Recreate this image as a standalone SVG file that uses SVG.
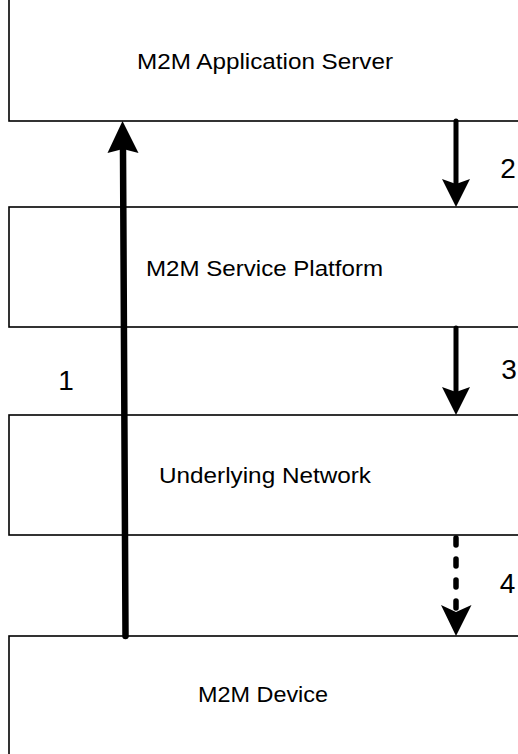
<svg xmlns="http://www.w3.org/2000/svg" width="518" height="754" viewBox="0 0 518 754">
  <style>
    .box { fill: #ffffff; stroke: #000000; stroke-width: 1.6; }
    .lbl { font-family: "Liberation Sans", Arial, sans-serif; font-size: 21.5px; fill: #000000; }
    .num { font-family: "Liberation Sans", Arial, sans-serif; font-size: 28px; fill: #000000; text-anchor: middle; }
    .shaft { stroke: #000000; fill: none; stroke-linecap: round; }
    .head { fill: #000000; stroke: none; }
  </style>
  <rect width="518" height="754" fill="#ffffff"/>
  <g id="app-server">
    <rect class="box" x="9" y="-5" width="520" height="126"/>
    <text class="lbl" x="137" y="69" textLength="256" lengthAdjust="spacingAndGlyphs">M2M Application Server</text>
  </g>
  <g id="service-platform">
    <rect class="box" x="9" y="207" width="520" height="120"/>
    <text class="lbl" x="146" y="276" textLength="237" lengthAdjust="spacingAndGlyphs">M2M Service Platform</text>
  </g>
  <g id="underlying-network">
    <rect class="box" x="9" y="415" width="520" height="120"/>
    <text class="lbl" x="159" y="483" textLength="212" lengthAdjust="spacingAndGlyphs">Underlying Network</text>
  </g>
  <g id="m2m-device">
    <rect class="box" x="9" y="636" width="520" height="130"/>
    <text class="lbl" x="198" y="702" textLength="130" lengthAdjust="spacingAndGlyphs">M2M Device</text>
  </g>
  <g id="connectors">
    <g id="arrow-1">
      <line class="shaft" x1="125.5" y1="636" x2="123" y2="150" stroke-width="6.5"/>
      <polygon class="head" points="122.5,121 138.5,153 123,149 107.5,153"/>
    </g>
    <g id="arrow-2">
      <line class="shaft" x1="456" y1="121" x2="456" y2="184" stroke-width="5"/>
      <polygon class="head" points="456,207 442,179 456,184 470,179"/>
    </g>
    <g id="arrow-3">
      <line class="shaft" x1="456" y1="328" x2="456" y2="392" stroke-width="5"/>
      <polygon class="head" points="456,415 442,387 456,392 470,387"/>
    </g>
    <g id="arrow-4">
      <line class="shaft" x1="456" y1="538" x2="456" y2="610" stroke-width="5.5" stroke-dasharray="7 14"/>
      <polygon class="head" points="456,636 441,605 456,612 471.5,605"/>
    </g>
    <text class="num" x="66" y="390">1</text>
    <text class="num" x="508" y="178">2</text>
    <text class="num" x="509" y="379">3</text>
    <text class="num" x="507.5" y="593">4</text>
  </g>
</svg>
